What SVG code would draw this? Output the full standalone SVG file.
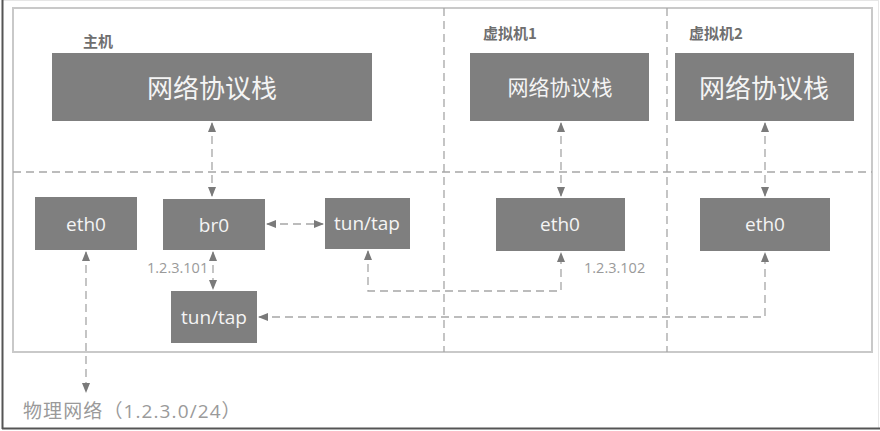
<svg xmlns="http://www.w3.org/2000/svg" width="880" height="431" viewBox="0 0 880 431">
  <defs>
    <style>
      .box { fill: #7f7f7f; }
      .lbl { fill: #f4f4f4; font-family: "Open Sans", "Noto Sans", "Noto Sans CJK SC", sans-serif; text-anchor: middle; font-size: 19px; }
      .stack { fill: #f4f4f4; font-family: "Noto Sans CJK SC", sans-serif; text-anchor: middle; }
      .title { fill: #6f6f6f; font-family: "Noto Sans CJK SC", sans-serif; font-size: 15px; font-weight: bold; }
      .ip { fill: #9a9a9a; font-family: "Open Sans", sans-serif; font-size: 14.5px; }
      .divider { stroke: #a6a6a6; stroke-width: 1.3; stroke-dasharray: 8 5; fill: none; }
      .link { stroke: #a6a6a6; stroke-width: 1.3; stroke-dasharray: 8 5; fill: none; }
    </style>
    <marker id="ah" viewBox="0 0 10 10" refX="9" refY="5" markerWidth="10" markerHeight="10" markerUnits="userSpaceOnUse" orient="auto-start-reverse">
      <path d="M0,1 L10,5 L0,9 z" fill="#7a7a7a"/>
    </marker>
  </defs>

  <!-- page frame -->
  <rect x="0" y="0" width="880" height="431" fill="#ffffff"/>
  <rect x="2.5" y="0.5" width="876" height="428" fill="none" stroke="#e6e6e6" stroke-width="1"/>
  <line x1="2.5" y1="0" x2="2.5" y2="429" stroke="#555555" stroke-width="2"/>
  <line x1="2" y1="428.5" x2="880" y2="428.5" stroke="#555555" stroke-width="2"/>

  <!-- system outline and partitions -->
  <rect x="13" y="8" width="859" height="344" fill="none" stroke="#c9c9c9" stroke-width="2"/>
  <g id="partitions">
    <line class="divider" x1="13" y1="172" x2="872" y2="172"/>
    <line class="divider" x1="444" y1="8" x2="444" y2="352"/>
    <line class="divider" x1="667" y1="8" x2="667" y2="352"/>
  </g>

  <!-- connectors -->
  <g id="connectors">
    <line class="link" x1="212" y1="196" x2="212" y2="123" marker-start="url(#ah)" marker-end="url(#ah)"/>
    <line class="link" x1="267" y1="224" x2="323" y2="224" marker-start="url(#ah)" marker-end="url(#ah)"/>
    <line class="link" x1="213" y1="252" x2="213" y2="289" marker-start="url(#ah)" marker-end="url(#ah)"/>
    <line class="link" x1="86" y1="252" x2="86" y2="392" marker-start="url(#ah)" marker-end="url(#ah)"/>
    <polyline class="link" points="368,251 368,291 561,291 561,253" marker-start="url(#ah)" marker-end="url(#ah)"/>
    <polyline class="link" points="259,317 765,317 765,253" marker-start="url(#ah)" marker-end="url(#ah)"/>
    <line class="link" x1="561" y1="196" x2="561" y2="123" marker-start="url(#ah)" marker-end="url(#ah)"/>
    <line class="link" x1="765" y1="196" x2="765" y2="123" marker-start="url(#ah)" marker-end="url(#ah)"/>
  </g>

  <!-- host -->
  <text class="title" x="83" y="47">主机</text>
  <g id="host-stack">
    <rect class="box" x="52" y="53" width="320" height="68"/>
    <text class="stack" x="212" y="98" font-size="26">网络协议栈</text>
  </g>
  <g id="host-eth0">
    <rect class="box" x="35" y="197" width="102" height="53"/>
    <text class="lbl" x="86" y="231">eth0</text>
  </g>
  <g id="br0">
    <rect class="box" x="163" y="199" width="102" height="51"/>
    <text class="lbl" x="214" y="232">br0</text>
  </g>
  <g id="tuntap-1">
    <rect class="box" x="325" y="198" width="85" height="51"/>
    <text class="lbl" x="367" y="230">tun/tap</text>
  </g>
  <g id="tuntap-2">
    <rect class="box" x="171" y="291" width="86" height="52"/>
    <text class="lbl" x="214" y="324">tun/tap</text>
  </g>
  <text class="ip" x="147" y="273">1.2.3.101</text>

  <!-- virtual machine 1 -->
  <text class="title" x="483" y="39">虚拟机1</text>
  <g id="vm1-stack">
    <rect class="box" x="470" y="53" width="179" height="68"/>
    <text class="stack" x="560" y="95" font-size="21">网络协议栈</text>
  </g>
  <g id="vm1-eth0">
    <rect class="box" x="496" y="198" width="129" height="53"/>
    <text class="lbl" x="560" y="231">eth0</text>
  </g>
  <text class="ip" x="584" y="273">1.2.3.102</text>

  <!-- virtual machine 2 -->
  <text class="title" x="689" y="39">虚拟机2</text>
  <g id="vm2-stack">
    <rect class="box" x="675" y="53" width="179" height="68"/>
    <text class="stack" x="764" y="98" font-size="26">网络协议栈</text>
  </g>
  <g id="vm2-eth0">
    <rect class="box" x="700" y="198" width="130" height="53"/>
    <text class="lbl" x="765" y="231">eth0</text>
  </g>

  <!-- physical network -->
  <text x="23" y="418" fill="#9a9a9a" font-family="Open Sans, Noto Sans CJK SC, sans-serif" font-size="19" letter-spacing="1.1">物理网络（1.2.3.0/24）</text>
</svg>
